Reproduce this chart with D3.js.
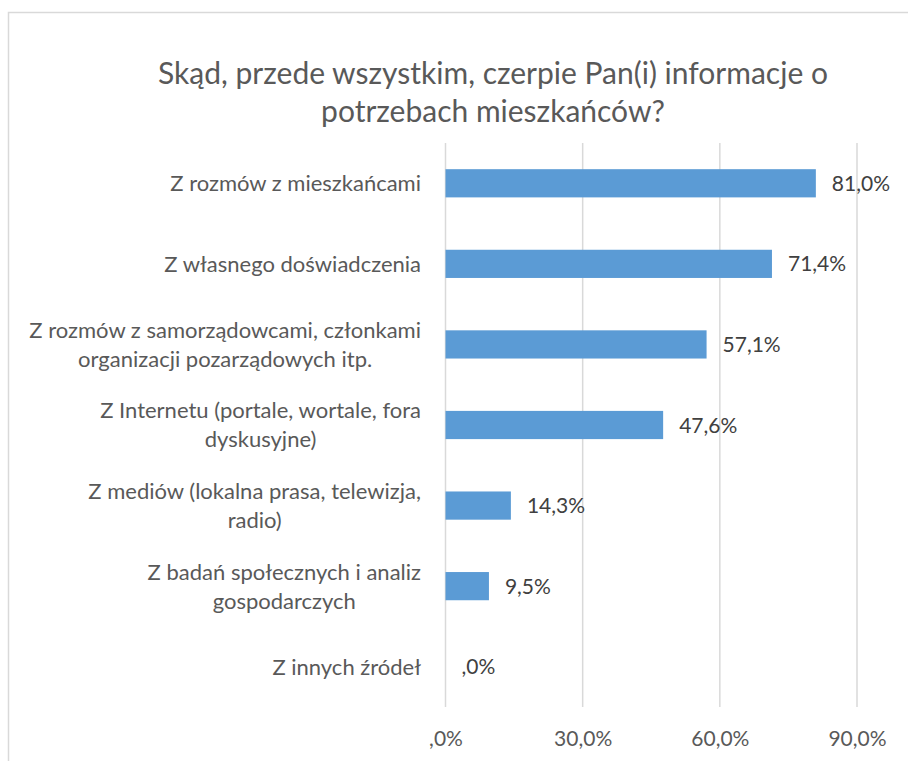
<!DOCTYPE html>
<html>
<head>
<meta charset="utf-8">
<script src="https://cdn.jsdelivr.net/npm/d3@7"></script>
<style>
  html, body { margin: 0; padding: 0; background: #ffffff; }
  svg { display: block; }
</style>
</head>
<body>
<svg id="chart" width="908" height="761"></svg>
<script>
const titleLines = ["Skąd, przede wszystkim, czerpie Pan(i) informacje o", "potrzebach mieszkańców?"];
const categories = [
  "Z rozmów z mieszkańcami",
  "Z własnego doświadczenia",
  "Z rozmów z samorządowcami, członkami\norganizacji pozarządowych itp.",
  "Z Internetu (portale, wortale, fora\ndyskusyjne)",
  "Z mediów (lokalna prasa, telewizja,\nradio)",
  "Z badań społecznych i analiz\ngospodarczych",
  "Z innych źródeł"
];
const values = [81.0, 71.4, 57.1, 47.6, 14.3, 9.5, 0.0];
const valueLabels = ["81,0%", "71,4%", "57,1%", "47,6%", "14,3%", "9,5%", ",0%"];
const tickValues = [0, 30, 60, 90];
const tickLabels = [",0%", "30,0%", "60,0%", "90,0%"];

const FONT = "Lato, 'Open Sans', sans-serif";
const svg = d3.select("#chart");

// outer frame
svg.append("rect")
  .attr("x", 8.5).attr("y", 12.5)
  .attr("width", 920).attr("height", 780)
  .attr("fill", "#ffffff")
  .attr("stroke", "#d9d9d9").attr("stroke-width", 1.5);

// title
const title = svg.append("text")
  .attr("text-anchor", "middle")
  .attr("font-family", FONT)
  .attr("font-size", 30)
  .attr("fill", "#595959");
titleLines.forEach((t, i) => {
  title.append("tspan").attr("x", 493).attr("y", 84 + i * 38).text(t);
});

const x = d3.scaleLinear().domain([0, 90]).range([445.5, 857]);
const y = d3.scaleBand().domain(categories).range([143, 707])
  .paddingInner(0.65).paddingOuter(0.325);

// gridlines
svg.append("g")
  .selectAll("line").data(tickValues).join("line")
  .attr("x1", d => x(d)).attr("x2", d => x(d))
  .attr("y1", 143).attr("y2", 707)
  .attr("stroke", "#d9d9d9").attr("stroke-width", 1.5);

// bars
svg.append("g")
  .selectAll("rect").data(values).join("rect")
  .attr("x", x(0))
  .attr("y", (d, i) => y(categories[i]))
  .attr("width", d => x(d) - x(0))
  .attr("height", y.bandwidth())
  .attr("fill", "#5b9bd5");

// value labels
svg.append("g")
  .selectAll("text").data(values).join("text")
  .attr("x", d => x(d) + 16)
  .attr("y", (d, i) => y(categories[i]) + y.bandwidth() / 2)
  .attr("dy", "0.36em")
  .attr("font-family", FONT)
  .attr("font-size", 21)
  .attr("fill", "#404040")
  .text((d, i) => valueLabels[i]);

// category labels
const catG = svg.append("g");
categories.forEach(c => {
  const lines = c.split("\n");
  const cy = y(c) + y.bandwidth() / 2;
  const lh = 29;
  const t = catG.append("text")
    .attr("text-anchor", "middle")
    .attr("font-family", FONT)
    .attr("font-size", 22)
    .attr("fill", "#595959");
  lines.forEach((l, i) => {
    t.append("tspan")
      .attr("y", cy + (i - (lines.length - 1) / 2) * lh)
      .attr("dy", "0.36em")
      .text(l);
  });
  let maxW = 0;
  t.selectAll("tspan").each(function() { maxW = Math.max(maxW, this.getComputedTextLength()); });
  t.selectAll("tspan").attr("x", 421 - maxW / 2);
});

// x axis labels
const axis = d3.axisBottom(x).tickValues(tickValues)
  .tickFormat((d, i) => tickLabels[i]).tickSize(0).tickPadding(0);
const ax = svg.append("g").attr("transform", "translate(0,730)").call(axis);
ax.select(".domain").remove();
ax.selectAll("text")
  .attr("font-family", FONT).attr("font-size", 21)
  .attr("fill", "#595959").attr("dy", "0.36em").attr("y", 8);
</script>
</body>
</html>
